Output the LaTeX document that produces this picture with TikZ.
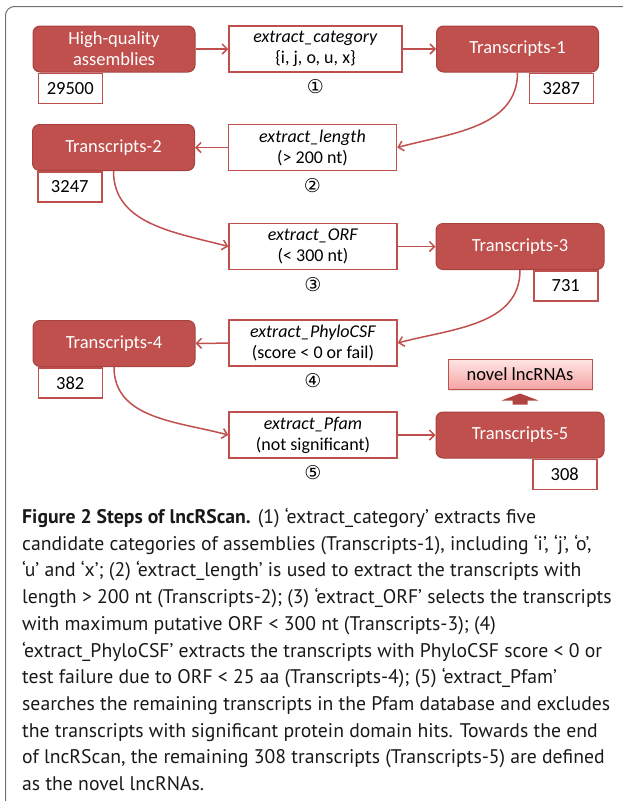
\documentclass[tikz,border=0pt]{standalone}
\usepackage{fontspec}
\setmainfont{PT Sans}
\newfontfamily\diagfont{Carlito}
\newfontfamily\circfont{DejaVu Sans}
\usetikzlibrary{positioning,arrows.meta,shadows}
\definecolor{boxred}{HTML}{C0504D}
\definecolor{edgered}{HTML}{A8423F}
\definecolor{arrowred}{HTML}{B0433F}
\definecolor{pinktop}{HTML}{FFE6E6}
\definecolor{pinkbot}{HTML}{F4A4A3}
\definecolor{framegray}{HTML}{707070}
\begin{document}
\begin{tikzpicture}[x=1pt,y=1pt,
  stage/.style={draw=edgered,fill=boxred,rounded corners=7pt,text=white,line width=1pt,
    minimum width=162pt,minimum height=46pt,align=center,font=\diagfont\fontsize{18.5}{21}\selectfont},
  tool/.style={draw=boxred,fill=white,line width=1.5pt,minimum width=168pt,minimum height=46pt,
    inner sep=1pt,align=center,font=\diagfont\fontsize{18}{21}\selectfont},
  count/.style={draw=boxred,fill=white,line width=1.5pt,minimum width=64pt,minimum height=30pt,
    inner sep=0pt,font=\diagfont\fontsize{18.5}{21}\selectfont},
  stepno/.style={inner sep=0pt,font=\circfont\fontsize{19}{21}\selectfont},
  flow/.style={draw=boxred,line width=1.5pt,-{Straight Barb[length=5pt,width=10pt]}}]
        \useasboundingbox (0,0) rectangle (622,-801);
        \draw[framegray,line width=1pt,rounded corners=9pt] (5.5,-6.5) rectangle (660,-840);
        \node [stage] (hq) at (114,-49) {High-quality\\assemblies};
        \node [tool,minimum width=173pt] (cat) at (315.5,-49) {\textit{extract\_category}\\\{i, j, o, u, x\}};
        \node [stage] (t1) at (517.5,-49) {Transcripts-1};
        \node [stage] (t2) at (113.5,-147.5) {Transcripts-2};
        \node [tool] (len) at (312.5,-147.5) {\textit{extract\_length}\\(> 200 nt)};
        \node [tool] (orf) at (313,-246.5) {\textit{extract\_ORF}\\(< 300 nt)};
        \node [stage,minimum width=168pt] (t3) at (520,-246.5) {Transcripts-3};
        \node [stage] (t4) at (114,-343.5) {Transcripts-4};
        \node [tool] (phylo) at (313,-343) {\textit{extract\_PhyloCSF}\\(score < 0 or fail)};
        \node [tool] (pfam) at (313,-435) {\textit{extract\_Pfam}\\(not significant)};
        \node [stage,minimum width=168pt] (t5) at (520,-435) {Transcripts-5};
        \node [draw=boxred,line width=1pt,top color=pinktop,bottom color=pinkbot,
          drop shadow={opacity=0.2,shadow xshift=1pt,shadow yshift=-1.5pt},
          minimum width=144pt,minimum height=30pt,font=\diagfont\fontsize{18.5}{21}\selectfont]
          (novel) at (520,-374) {novel lncRNAs};
        \node [count,anchor=north west] (c0) at ([xshift=5pt]hq.south west) {29500};
        \node [count,anchor=north east] (c1) at ([xshift=-5pt]t1.south east) {3287};
        \node [count,anchor=north west] (c2) at ([xshift=5pt]t2.south west) {3247};
        \node [count,anchor=north east] (c3) at ([xshift=-6pt]t3.south east) {731};
        \node [count,anchor=north west] (c4) at ([xshift=5pt]t4.south west) {382};
        \node [count,anchor=north east] (c5) at ([xshift=-7pt]t5.south east) {308};
        \node [stepno,below=7pt of cat] (s1) {①};
        \node [stepno,below=7pt of len] (s2) {②};
        \node [stepno,below=7pt of orf] (s3) {③};
        \node [stepno,below=7pt of phylo] (s4) {④};
        \node [stepno,below=7pt of pfam] (s5) {⑤};
        \draw [flow] (hq) -- (cat);
        \draw [flow] (cat) -- (t1);
        \draw [flow] (t1.south) to[out=-90,in=15] (len.east);
        \draw [flow] (len) -- (t2);
        \draw [flow] (t2.south) to[out=-90,in=165] (orf.west);
        \draw [flow] (orf) -- (t3);
        \draw [flow] (t3.south) to[out=-90,in=15] (phylo.east);
        \draw [flow] (phylo) -- (t4);
        \draw [flow] (t4.south) to[out=-90,in=165] (pfam.west);
        \draw [flow] (pfam) -- (t5);
        \fill [arrowred,shift={(t5.north)}] (0,18) -- (18.5,11) -- (7.5,11) -- (7.5,7) -- (-7.5,7) -- (-7.5,11) -- (-18.5,11) -- cycle;
        \node [anchor=north west,align=left,inner sep=0pt,text=black!90,
          font=\fontsize{19.7}{26.7}\selectfont] (cap) at (22,-508)
          {\textbf{Figure 2 Steps of lncRScan.} (1) ‘extract\_category’ extracts five\\
           candidate categories of assemblies (Transcripts-1), including ‘i’, ‘j’, ‘o’,\\
           ‘u’ and ‘x’; (2) ‘extract\_length’ is used to extract the transcripts with\\
           length > 200 nt (Transcripts-2); (3) ‘extract\_ORF’ selects the transcripts\\
           with maximum putative ORF < 300 nt (Transcripts-3); (4)\\
           ‘extract\_PhyloCSF’ extracts the transcripts with PhyloCSF score < 0 or\\
           test failure due to ORF < 25 aa (Transcripts-4); (5) ‘extract\_Pfam’\\
           searches the remaining transcripts in the Pfam database and excludes\\
           the transcripts with significant protein domain hits. Towards the end\\
           of lncRScan, the remaining 308 transcripts (Transcripts-5) are defined\\
           as the novel lncRNAs.};
    \end{tikzpicture}
\end{document}
